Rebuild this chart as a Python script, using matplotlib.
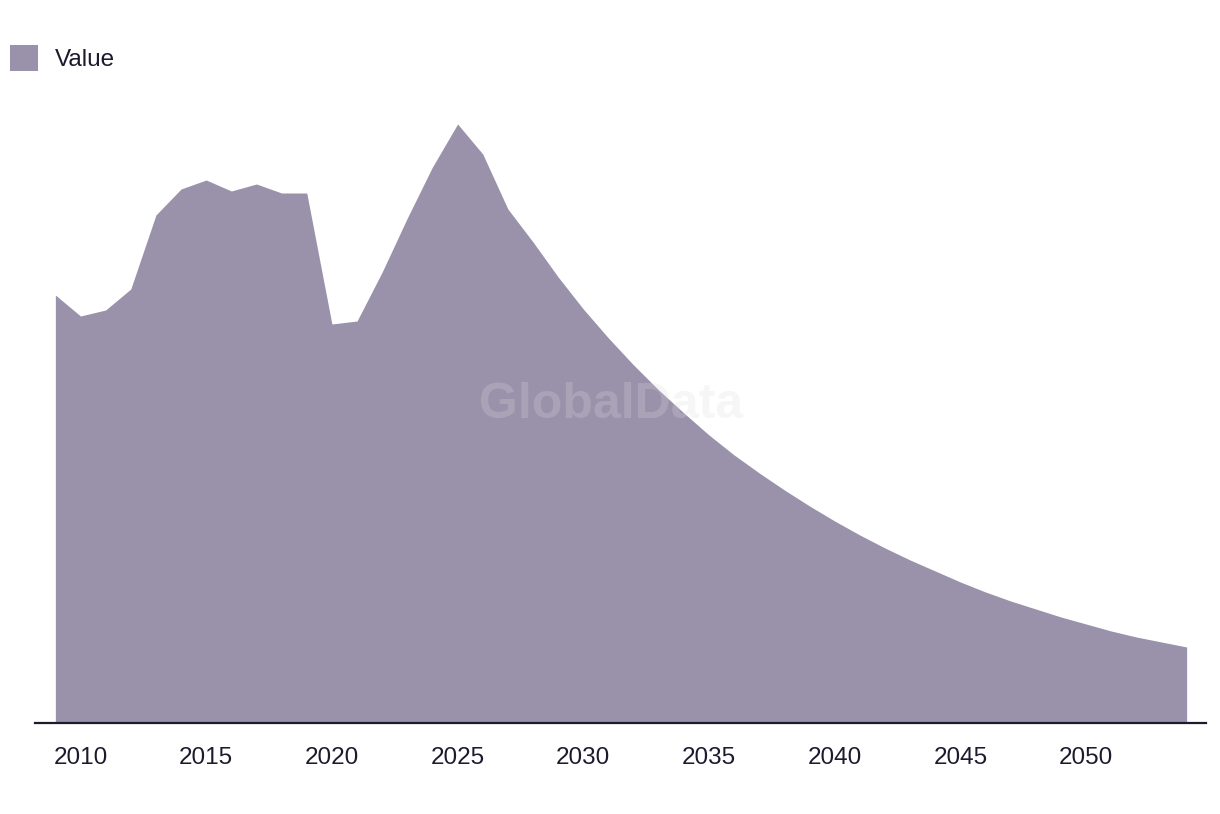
import matplotlib
matplotlib.use('Agg')
import matplotlib.pyplot as plt
from matplotlib.patches import Patch

# values (arbitrary units, no y axis shown)
years = list(range(2009, 2055))
values = [428, 407, 413, 434, 508, 534, 543, 532, 539, 530, 530, 399, 402, 451, 505,
          556, 599, 569, 514, 481, 446, 414, 385, 358, 333, 310, 288, 268, 250, 233,
          217, 202, 188, 175, 163, 152, 141, 131, 122, 114, 106, 99, 92, 86, 81, 76]
tick_years = [2010, 2015, 2020, 2025, 2030, 2035, 2040, 2045, 2050]
series_name = 'Value'

fill_color = '#9a91ab'
text_color = '#1c1b2e'

plt.rcParams['font.family'] = ['Liberation Sans', 'DejaVu Sans']

fig = plt.figure(figsize=(12.2, 8.14), dpi=100)
ax = fig.add_axes([35 / 1220, 91 / 814, 1171 / 1220, 623 / 814])

ax.fill_between(years, values, 0, color=fill_color, linewidth=0, label=series_name)

ax.set_xlim(2008.19, 2054.77)
ax.set_ylim(0, 623)

for side in ['top', 'right', 'left']:
    ax.spines[side].set_visible(False)
ax.spines['bottom'].set_color(text_color)
ax.spines['bottom'].set_linewidth(1.6)
ax.set_yticks([])
ax.set_xticks(tick_years)
ax.set_xticklabels([str(y) for y in tick_years])
ax.tick_params(axis='x', length=0, pad=17, labelsize=17.5, labelcolor=text_color)

# watermark
ax.text(0.492, 0.51, 'GlobalData', transform=ax.transAxes, fontsize=36,
        fontweight='bold', color='#dcdcdc', alpha=0.25, ha='center', va='center')

handle = Patch(facecolor=fill_color, edgecolor='none')
fig.legend([handle], [series_name], loc='upper left',
           bbox_to_anchor=(10 / 1220, 1 - 45 / 814), frameon=False,
           fontsize=17.5, handlelength=1.15, handleheight=1.3,
           handletextpad=0.7, borderpad=0, borderaxespad=0, labelcolor=text_color)

plt.savefig('out.png', dpi=100, facecolor='white')
